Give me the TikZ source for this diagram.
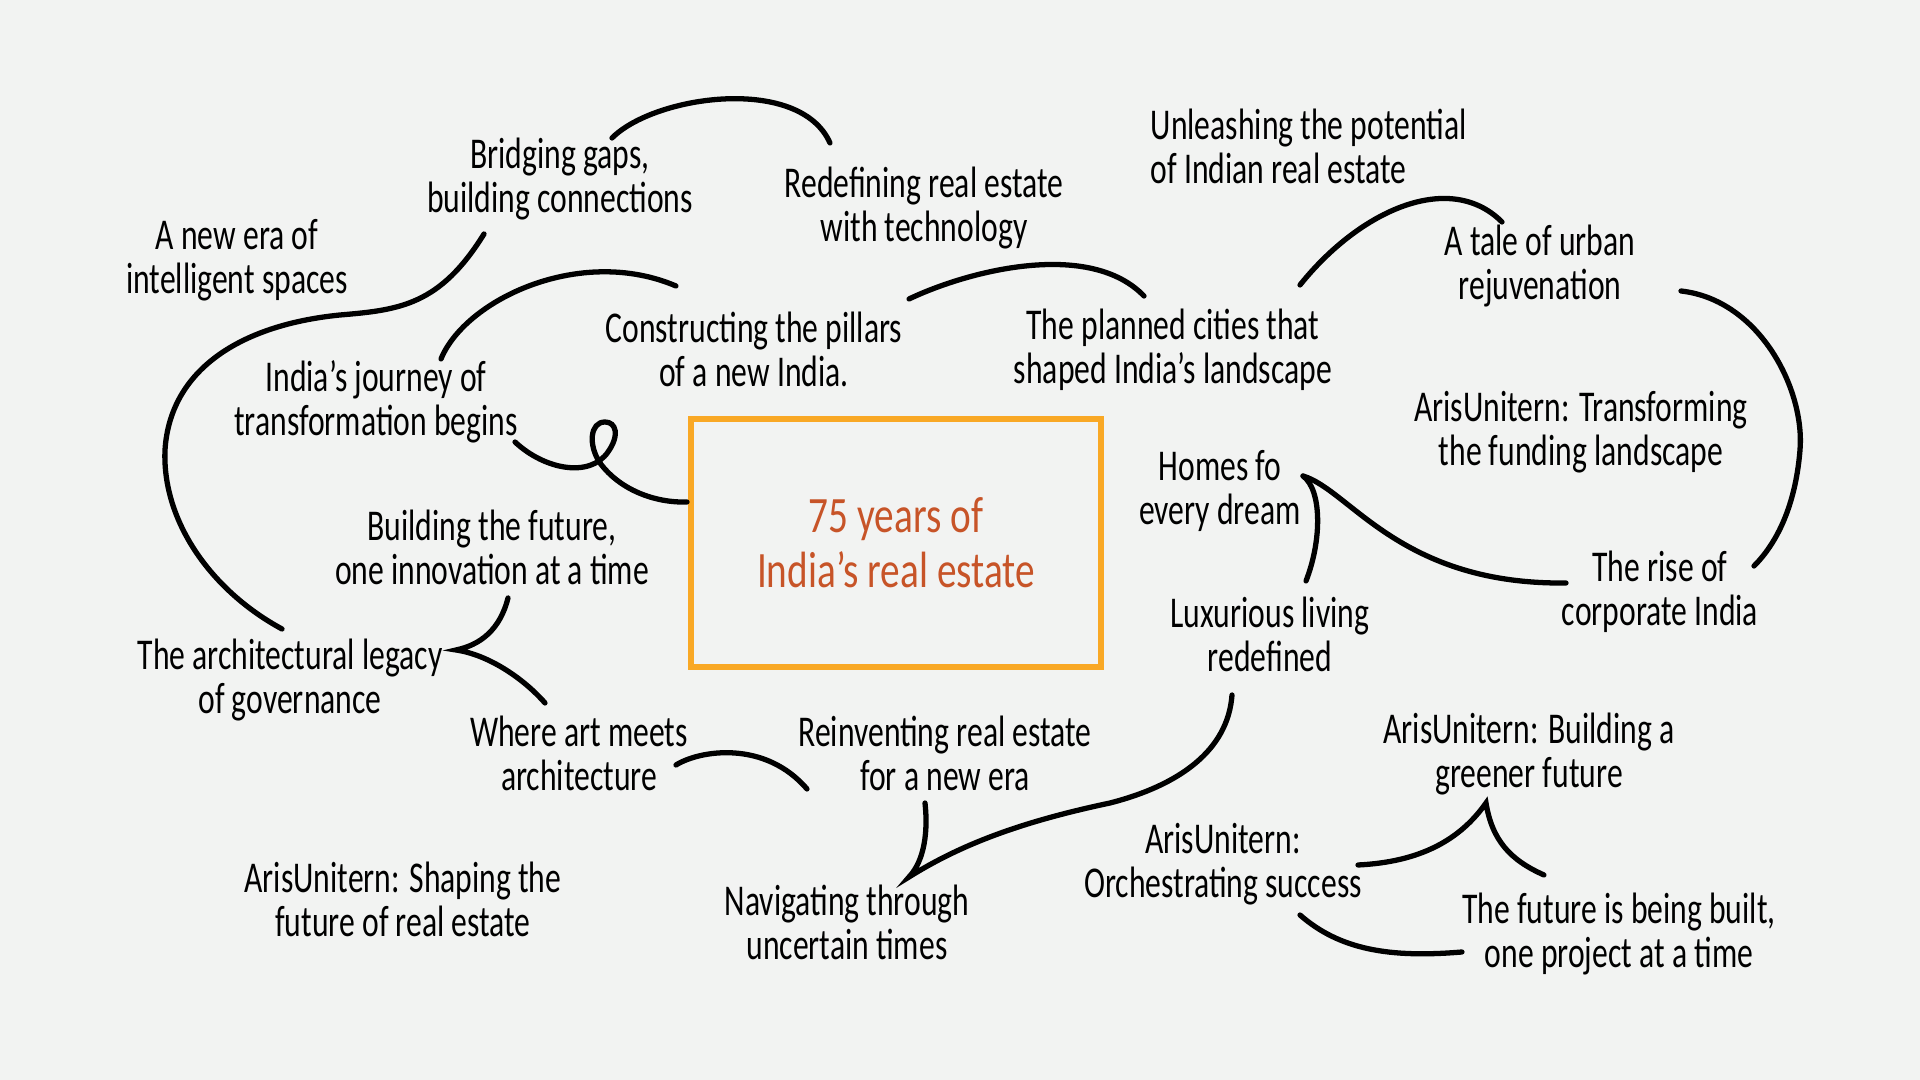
\documentclass[tikz,border=0pt]{standalone}
\usepackage{fontspec}
\setmainfont{Carlito}[FakeStretch=0.72]
\newfontfamily\titlefont{Carlito}[FakeStretch=0.77, Ligatures=TeX]
\usetikzlibrary{positioning}
\definecolor{paper}{RGB}{242,243,242}
\definecolor{hubline}{RGB}{249,168,37}
\definecolor{hubtext}{RGB}{199,84,40}
\tikzset{idea/.style={align=center, inner sep=0pt, text=black, font=\fontsize{12.5}{12.5}\selectfont},
squiggle/.style={line width=1.5pt, line cap=round, black},
hub/.style={draw=hubline, line width=1.7pt, minimum width=4.09cm, minimum height=2.48cm, align=center, text=hubtext, font=\titlefont\fontsize{14.5}{15.6}\selectfont}}

\begin{document}
\begin{tikzpicture}[x=0.01cm, y=-0.01cm]

\fill[paper] (0,0) rectangle (1920,1080);
\useasboundingbox (0,0) rectangle (1920,1080);

\node[hub] (hub) at (896,543) {75 years of\\India’s real estate};

\node[idea] (newera) at (237,260) {A new era of\\intelligent spaces};
\node[idea] (bridging) at (560,179) {Bridging gaps,\\building connections};
\node[idea] (redefining) at (924,208) {Redefining real estate\\with technology};
\node[idea, align=left, anchor=west] (unleashing) at (1150,146) {Unleashing the potential\\of Indian real estate};
\node[idea] (constructing) at (754,349) {Constructing the pillars\\of a new India.};
\node[idea] (planned) at (1173,350) {The planned cities that\\shaped India’s landscape};
\node[idea] (tale) at (1540,266) {A tale of urban\\rejuvenation};
\node[idea] (journey) at (376,402) {India’s journey of\\transformation begins};
\node[idea] (funding) at (1581,432) {ArisUnitern: Transforming\\the funding landscape};
\node[idea] (homes) at (1220,491) {Homes fo\\every dream};
\node[idea] (innovation) at (492,547) {Building the future,\\one innovation at a time};
\node[idea] (luxury) at (1270,634) {Luxurious living\\redefined};
\node[idea] (corporate) at (1660,592) {The rise of\\corporate India};
\node[idea] (legacy) at (290,680) {The architectural legacy\\of governance};
\node[idea] (artmeets) at (579,753) {Where art meets\\architecture};
\node[idea] (reinventing) at (945,753) {Reinventing real estate\\for a new era};
\node[idea] (greener) at (1529,754) {ArisUnitern: Building a\\greener future};
\node[idea] (orchestrating) at (1223,864) {ArisUnitern:\\Orchestrating success};
\node[idea] (shaping) at (403,899) {ArisUnitern: Shaping the\\future of real estate};
\node[idea] (navigating) at (847,922) {Navigating through\\uncertain times};
\node[idea] (projects) at (1619,934) {The future is being built,\\one project at a time};

% stroke ends
\coordinate (bridging-r) at (612,138);
\coordinate (redefining-l) at (830,143);
\coordinate (bridging-b) at (484,234);
\coordinate (legacy-t) at (282,629);
\coordinate (journey-t) at (441,359);
\coordinate (constructing-l) at (676,286);
\coordinate (constructing-r) at (909,299);
\coordinate (planned-l) at (1144,296);
\coordinate (journey-r) at (515,442);
\coordinate (hub-w) at (687,502);
\coordinate (planned-r) at (1300,285);
\coordinate (tale-l) at (1502,222);
\coordinate (tale-r) at (1681,291);
\coordinate (corporate-t) at (1754,566);
\coordinate (homes-r) at (1303,476);
\coordinate (corporate-l) at (1566,583);
\coordinate (luxury-t) at (1306,581);
\coordinate (innovation-b) at (508,598);
\coordinate (legacy-r) at (456,650);
\coordinate (artmeets-t) at (545,703);
\coordinate (artmeets-r) at (676,765);
\coordinate (reinventing-l) at (807,789);
\coordinate (reinventing-b) at (925,803);
\coordinate (navigating-t) at (909,877);
\coordinate (luxury-b) at (1232,695);
\coordinate (orchestrating-r) at (1358,865);
\coordinate (greener-b) at (1486,803);
\coordinate (projects-t) at (1544,875);
\coordinate (orchestrating-b) at (1300,915);
\coordinate (projects-l) at (1462,952);

\draw[squiggle] (bridging-r) .. controls (655,95) and (800,75) .. (redefining-l);
\draw[squiggle] (bridging-b) .. controls (440,305) and (400,310) .. (340,315) .. controls (240,325) and (170,370) .. (165,450) .. controls (162,520) and (210,590) .. (legacy-t);
\draw[squiggle] (journey-t) .. controls (465,300) and (580,245) .. (constructing-l);
\draw[squiggle] (constructing-r) .. controls (970,270) and (1090,240) .. (planned-l);
\draw[squiggle] (journey-r) .. controls (545,470) and (590,478) .. (608,452) .. controls (620,435) and (616,422) .. (605,422) .. controls (590,422) and (588,445) .. (600,463) .. controls (620,490) and (655,503) .. (hub-w);
\draw[squiggle] (planned-r) .. controls (1360,210) and (1450,170) .. (tale-l);
\draw[squiggle] (tale-r) .. controls (1760,300) and (1805,390) .. (1800,450) .. controls (1796,500) and (1780,540) .. (corporate-t);
\draw[squiggle] (homes-r) .. controls (1350,490) and (1400,585) .. (corporate-l);
\draw[squiggle] (homes-r) .. controls (1322,490) and (1322,540) .. (luxury-t);
\draw[squiggle] (innovation-b) .. controls (500,630) and (480,645) .. (legacy-r) .. controls (490,655) and (525,680) .. (artmeets-t);
\draw[squiggle] (artmeets-r) .. controls (700,750) and (765,740) .. (reinventing-l);
\draw[squiggle] (reinventing-b) .. controls (928,830) and (925,860) .. (navigating-t) .. controls (960,845) and (1020,822) .. (1110,803) .. controls (1180,785) and (1228,750) .. (luxury-b);
\draw[squiggle] (orchestrating-r) .. controls (1420,862) and (1460,840) .. (greener-b) .. controls (1492,840) and (1510,860) .. (projects-t);
\draw[squiggle] (orchestrating-b) .. controls (1340,950) and (1390,958) .. (projects-l);

\end{tikzpicture}
\end{document}
